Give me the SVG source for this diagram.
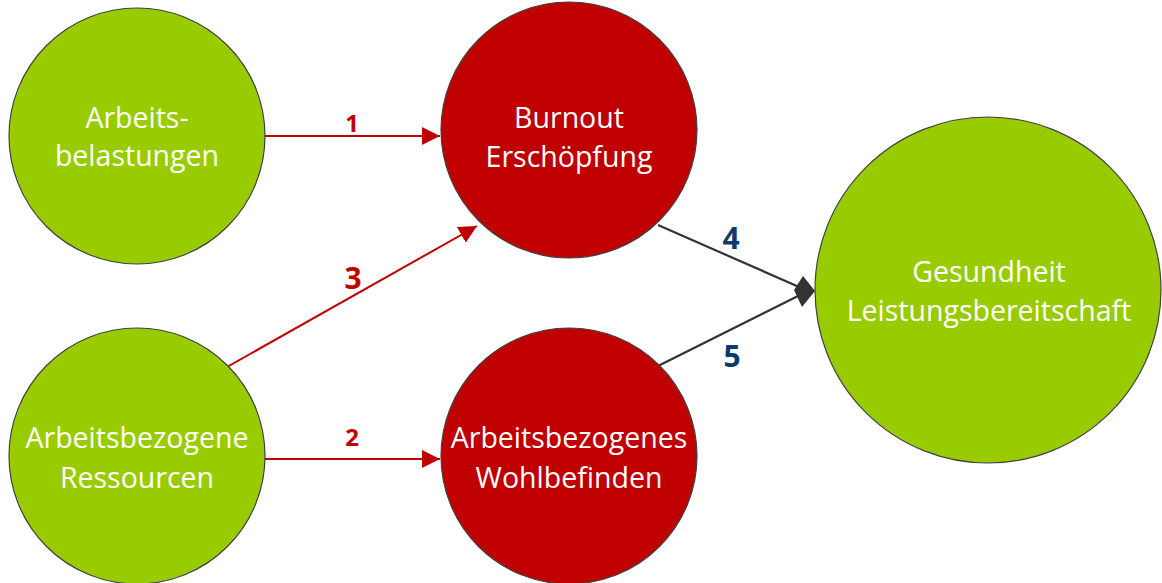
<svg xmlns="http://www.w3.org/2000/svg" width="1162" height="583" viewBox="0 0 1162 583">
  <style>
    .green { fill: #99cc00; stroke: #404040; stroke-width: 1.2; }
    .red { fill: #c00000; stroke: #404040; stroke-width: 1.2; }
    .label { font-family: "Open Sans", "Noto Sans", sans-serif; font-size: 28.5px; fill: #ffffff; text-anchor: middle; }
    .num { font-family: "Open Sans", "Noto Sans", sans-serif; font-weight: bold; text-anchor: middle; }
    .redline { stroke: #c00000; stroke-width: 2; fill: none; }
    .greyline { stroke: #333333; stroke-width: 2.2; fill: none; }
    .joint { fill: #333333; }
  </style>
  <defs>
    <marker id="tri" viewBox="0 0 10 10" refX="10" refY="5" markerWidth="9" markerHeight="9" markerUnits="strokeWidth" orient="auto">
      <path d="M0,0 L10,5 L0,10 Z" fill="#c00000"/>
    </marker>
  </defs>

  <g id="connectors">
    <line class="redline" x1="265" y1="136" x2="440" y2="136" marker-end="url(#tri)"/>
    <line class="redline" x1="265" y1="459" x2="440" y2="459" marker-end="url(#tri)"/>
    <line class="redline" x1="227" y1="367" x2="477" y2="226" marker-end="url(#tri)"/>
    <line class="greyline" x1="658" y1="225" x2="806" y2="290" />
    <line class="greyline" x1="658" y1="366" x2="806" y2="292" />
    <!-- shared diamond head where both paths meet -->
    <path class="joint" d="M815,291 L803,276 L794,290 L802,307 Z"/>
    <text class="num" x="352" y="132" font-size="24" fill="#c00000">1</text>
    <text class="num" x="352" y="446" font-size="24" fill="#c00000">2</text>
    <text class="num" x="353" y="289" font-size="30" fill="#c00000">3</text>
    <text class="num" x="731" y="249" font-size="30" fill="#0b3a6b">4</text>
    <text class="num" x="732" y="367" font-size="30" fill="#0b3a6b">5</text>
  </g>

  <g id="arbeitsbelastungen">
    <circle class="green" cx="137" cy="136" r="128"/>
    <text class="label" x="137" y="128">Arbeits-</text>
    <text class="label" x="137" y="166">belastungen</text>
  </g>

  <g id="ressourcen">
    <circle class="green" cx="137" cy="456" r="128"/>
    <text class="label" x="137" y="448">Arbeitsbezogene</text>
    <text class="label" x="137" y="488">Ressourcen</text>
  </g>

  <g id="burnout">
    <circle class="red" cx="569" cy="130" r="128"/>
    <text class="label" x="569" y="128">Burnout</text>
    <text class="label" x="569" y="167">Erschöpfung</text>
  </g>

  <g id="wohlbefinden">
    <circle class="red" cx="569" cy="456" r="128"/>
    <text class="label" x="569" y="448">Arbeitsbezogenes</text>
    <text class="label" x="569" y="488">Wohlbefinden</text>
  </g>

  <g id="gesundheit">
    <circle class="green" cx="988" cy="290" r="173"/>
    <text class="label" x="989" y="282">Gesundheit</text>
    <text class="label" x="989" y="321">Leistungsbereitschaft</text>
  </g>
</svg>
